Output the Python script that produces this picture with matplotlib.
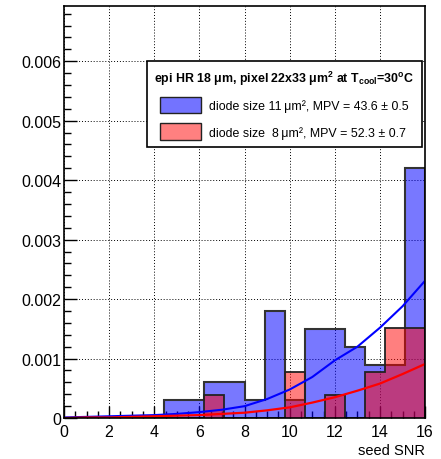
import matplotlib
matplotlib.use("Agg")
import matplotlib.pyplot as plt
import numpy as np
from matplotlib.patches import Patch

plt.rcParams['font.family'] = ['Liberation Sans', 'DejaVu Sans']
plt.rcParams['mathtext.fontset'] = 'custom'
plt.rcParams['mathtext.rm'] = 'Liberation Sans'
plt.rcParams['mathtext.bf'] = 'Liberation Sans:bold'

# histogram: 18 bins from 0 to 16
bin_edges = np.linspace(0, 16, 19)
blue_vals = [0, 0, 0, 0, 0, 0.0003, 0.0003, 0.0006, 0.0006, 0.0003, 0.0018, 0.0003,
             0.0015, 0.0015, 0.0012, 0.0009, 0.0009, 0.0042]
red_vals = [0, 0, 0, 0, 0, 0, 0, 0.00038, 0, 0, 0, 0.00077,
            0, 0.00038, 0, 0.00077, 0.00152, 0.00152]

# fitted curves
curve_x = [0, 1, 2, 3, 4, 5, 6, 7, 8, 9, 10, 11, 12, 13, 14, 15, 16]
blue_curve = [0.00001, 0.00002, 0.00003, 0.00004, 0.00005, 0.00007, 0.0001, 0.00014, 0.0002,
              0.00032, 0.00048, 0.00069, 0.00097, 0.0012, 0.00152, 0.00188, 0.00231]
red_curve = [0.0, 0.00001, 0.00001, 0.00002, 0.00003, 0.00004, 0.00005, 0.00007, 0.00009,
             0.00013, 0.00018, 0.00026, 0.00035, 0.00046, 0.00058, 0.00074, 0.00091]

title = "epi HR 18 \u03bcm, pixel 22x33 \u03bcm$^\\mathbf{2}$ at T$_\\mathbf{cool}$=30$^\\mathbf{o}$C"
labels = ["diode size 11\u2009\u03bcm\u00b2, MPV = 43.6 \u00b1 0.5",
          "diode size  8\u2009\u03bcm\u00b2, MPV = 52.3 \u00b1 0.7"]

fig = plt.figure(figsize=(4.41, 4.60), dpi=100)
ax = fig.add_axes([0.145, 0.089, 0.819, 0.896])

ax.stairs(blue_vals, bin_edges, fill=True, color='blue', alpha=0.53, lw=0)
ax.stairs(blue_vals, bin_edges, color='#333333', lw=1.5)
ax.plot(curve_x, blue_curve, color='blue', lw=1.5)
ax.stairs(red_vals, bin_edges, fill=True, color='red', alpha=0.5, lw=0)
ax.stairs(red_vals, bin_edges, color='#222222', lw=1.3)
ax.plot(curve_x, red_curve, color='red', lw=1.6)

ax.set_xlim(0, 16)
ax.set_ylim(0, 0.00693)
ax.set_xticks(np.arange(0, 17, 2))
ax.set_xticks(np.arange(0, 16.01, 0.5), minor=True)
ax.set_yticks(np.arange(0, 0.0061, 0.001))
ax.set_yticklabels(["0", "0.001", "0.002", "0.003", "0.004", "0.005", "0.006"])
ax.set_yticks(np.arange(0, 0.00693, 0.0002), minor=True)
ax.tick_params(which='both', direction='in', top=False, right=False, labelsize=11.5)
ax.tick_params(which='major', length=9, width=1)
ax.tick_params(which='minor', length=5, width=1)
ax.tick_params(axis='x', pad=4)
ax.tick_params(axis='y', pad=2)
ax.grid(True, which='major', color='black', ls=(0, (1, 2)), lw=0.7)
ax.set_axisbelow(True)
for s in ax.spines.values():
    s.set_linewidth(1.2)

ax.set_xlabel("seed SNR", fontsize=10.5, loc='right', labelpad=3)

handles = [Patch(facecolor=(0.45, 0.45, 1.0), edgecolor='#222222', lw=1),
           Patch(facecolor=(1.0, 0.5, 0.5), edgecolor='#222222', lw=1)]
leg = ax.legend(handles, labels, title=title, loc='upper right',
                bbox_to_anchor=(0.99, 0.866), borderaxespad=0,
                prop={'size': 8.9}, frameon=True,
                fancybox=False, edgecolor='black', framealpha=1,
                handlelength=3.3, handleheight=1.7, borderpad=0.6, labelspacing=0.8,
                handletextpad=0.7,
                title_fontproperties={'weight': 'bold', 'size': 8.9})
leg.get_frame().set_linewidth(1.2)

fig.savefig("out.png", dpi=100)
